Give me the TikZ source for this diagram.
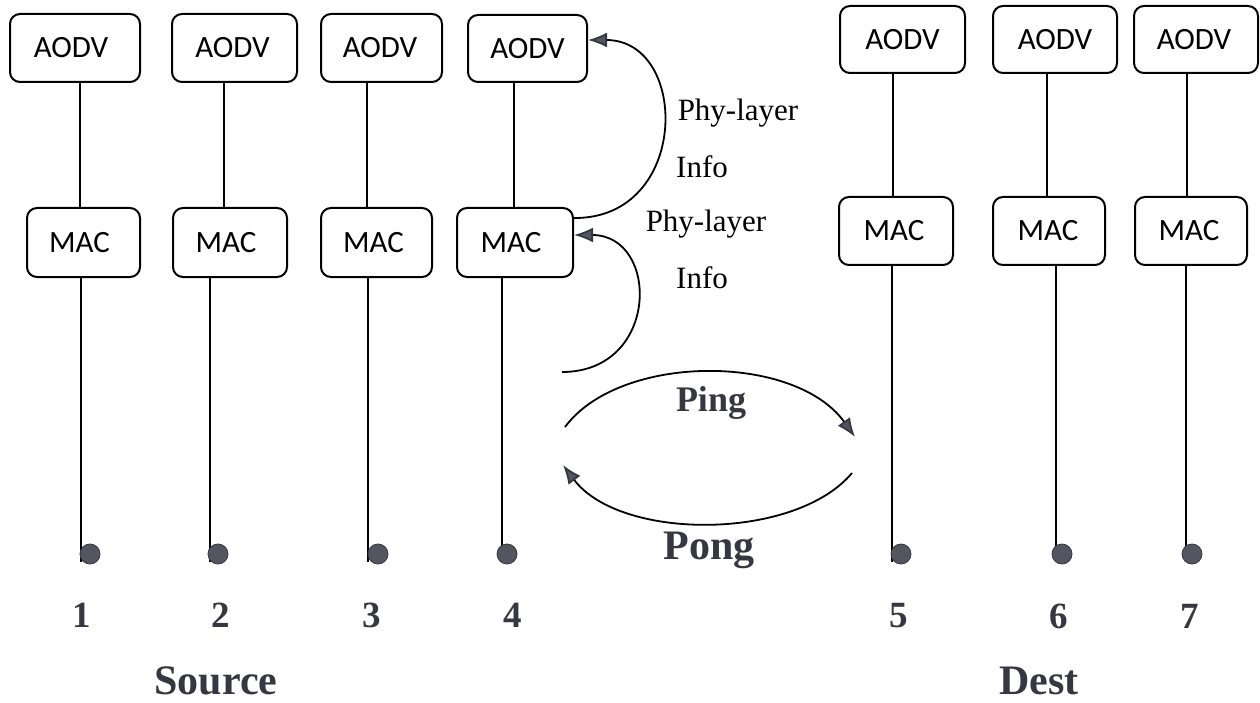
\documentclass[tikz,border=0pt]{standalone}
\usepackage{fontspec}
\setmainfont{Liberation Serif}
\newfontfamily\boxfont{Carlito}
\usetikzlibrary{arrows.meta}
\definecolor{ink}{RGB}{55,55,65}
\definecolor{dotgray}{RGB}{85,85,98}
\begin{document}
\begin{tikzpicture}[x=1pt,y=-1pt,
  layerbox/.style={draw, line width=2pt, rounded corners=10pt, inner sep=0pt,
    font=\boxfont\fontsize{31}{34}\selectfont},
  wire/.style={line width=1.8pt},
  dot/.style={circle, fill=dotgray, draw=ink, line width=0.8pt,
    minimum size=20pt, inner sep=0pt},
  flow/.style={line width=1.8pt,
    -{Latex[length=19pt,width=15pt,fill=dotgray,color=ink]}},
  num/.style={font=\bfseries\fontsize{37}{40}\selectfont, text=ink, inner sep=1pt},
  role/.style={font=\bfseries\fontsize{42}{46}\selectfont, text=ink, inner sep=0pt},
  msg/.style={font=\bfseries\fontsize{#1}{#1}\selectfont, text=ink, inner sep=1pt},
  info/.style={font=\fontsize{31}{34}\selectfont, inner sep=1pt}]
\useasboundingbox (0,0) rectangle (1260,703);

% protocol stacks: AODV over MAC
\node[layerbox, minimum width=130pt, minimum height=68pt] (A1) at (75,48) {AODV\hspace*{8pt}};
\node[layerbox, minimum width=113pt, minimum height=69pt] (M1) at (83.5,242.5) {MAC\hspace*{8pt}};
\node[layerbox, minimum width=125pt, minimum height=68pt] (A2) at (234.5,48) {AODV\hspace*{4pt}};
\node[layerbox, minimum width=114pt, minimum height=69pt] (M2) at (230,242.5) {MAC\hspace*{8pt}};
\node[layerbox, minimum width=121pt, minimum height=68pt] (A3) at (381.5,48) {AODV\hspace*{3pt}};
\node[layerbox, minimum width=111pt, minimum height=69pt] (M3) at (376.5,242.5) {MAC\hspace*{6pt}};
\node[layerbox, minimum width=119pt, minimum height=67pt] (A4) at (527.5,48.5) {AODV};
\node[layerbox, minimum width=116pt, minimum height=69pt] (M4) at (515,242.5) {MAC\hspace*{8pt}};
\node[layerbox, minimum width=125pt, minimum height=67pt] (A5) at (902.5,39.5) {AODV};
\node[layerbox, minimum width=114pt, minimum height=68pt] (M5) at (896,231) {MAC\hspace*{4pt}};
\node[layerbox, minimum width=124pt, minimum height=67pt] (A6) at (1055,39.5) {AODV};
\node[layerbox, minimum width=112pt, minimum height=68pt] (M6) at (1049,231) {MAC\hspace*{2pt}};
\node[layerbox, minimum width=124pt, minimum height=67pt] (A7) at (1196,39.5) {AODV\hspace*{4pt}};
\node[layerbox, minimum width=112pt, minimum height=68pt] (M7) at (1191,231) {MAC\hspace*{4pt}};

% vertical links and antenna dots
\foreach \n/\u/\l/\d in {1/80/81/90, 2/224/210/218, 3/367/368/378, 4/514/502/507,
                         5/893/892/901, 6/1047/1056/1062, 7/1187/1186/1192} {
  \coordinate (u\n) at (\u,0);
  \coordinate (e\n) at (\l,562);
  \draw[wire] (A\n.south -| u\n) -- (M\n.north -| u\n);
  \draw[wire] (M\n.south -| e\n) -- (e\n);
  \node[dot] (D\n) at (\d,554) {};
}

% node numbers
\node[num] (N1) at (82,615) {1};
\node[num] (N2) at (221,615) {2};
\node[num] (N3) at (372,615) {3};
\node[num] (N4) at (513,615) {4};
\node[num] (N5) at (899,616) {5};
\node[num] (N6) at (1059,616) {6};
\node[num] (N7) at (1190,616) {7};

\node[role] (src) at (216,681) {Source};
\node[role] (dst) at (1039,681) {Dest};

% cross-layer information
\draw[flow] ([yshift=-11pt]M4.north east) .. controls (690,219) and (690,40) .. ([yshift=8.5pt]A4.east);
\coordinate (phyin) at (562,372);
\draw[flow] (phyin) .. controls (660,372) and (660,235) .. ([yshift=7.5pt]M4.east);
\node[info] (p1) at (738,113) {Phy-layer};
\node[info] (i1) at (702,167) {Info};
\node[info] (p2) at (706,224) {Phy-layer};
\node[info] (i2) at (702,278) {Info};

% ping / pong exchange
\coordinate (pingS) at (565,427);
\coordinate (pingE) at (855,437);
\draw[flow] (pingS) .. controls (620,353) and (795,353) .. (pingE);
\coordinate (pongS) at (852,473);
\coordinate (pongE) at (563,465);
\draw[flow] (pongS) .. controls (795,541) and (620,541) .. (pongE);
\node[msg=36] (ping) at (711,403) {Ping};
\node[msg=42] (pong) at (709,550) {Pong};
\end{tikzpicture}
\end{document}
